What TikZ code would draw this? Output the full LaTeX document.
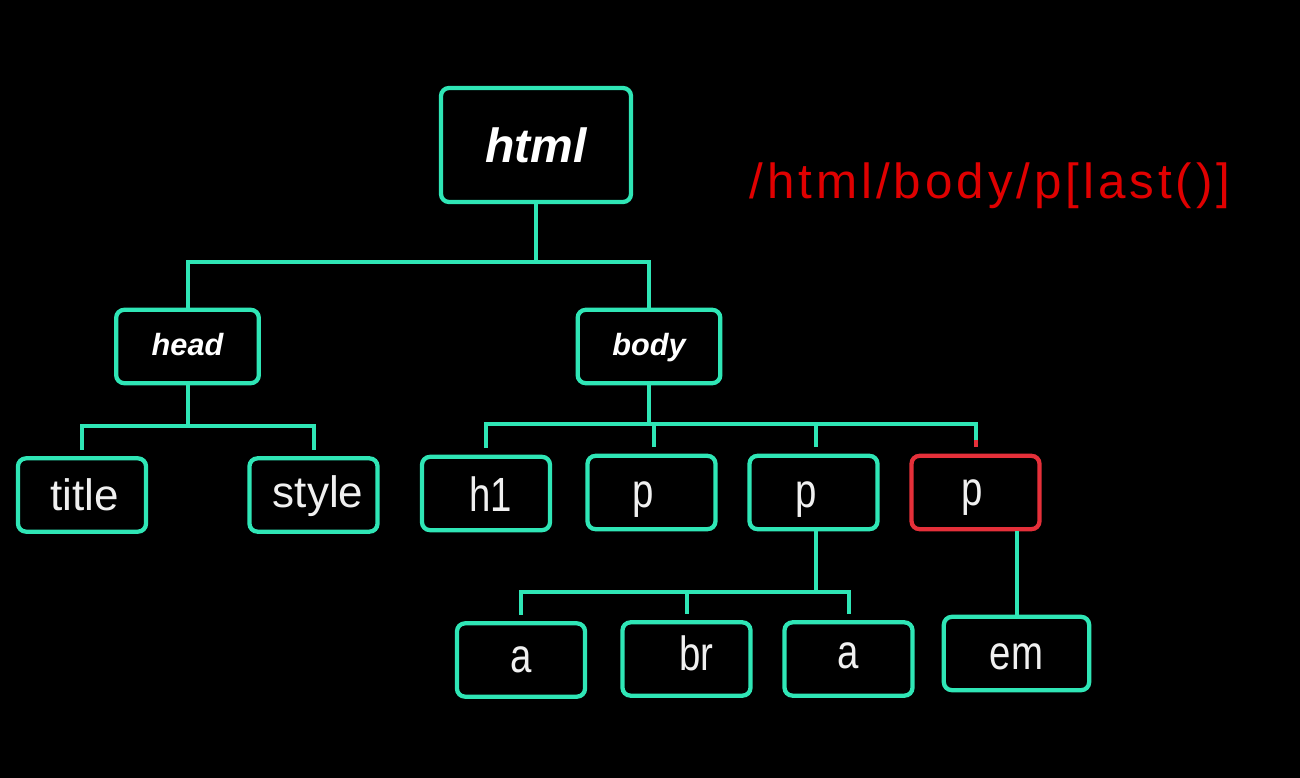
\documentclass[tikz,border=0pt]{standalone}
\usepackage{fontspec}
\setmainfont{Liberation Sans}
\newfontfamily\narrowfont[FakeStretch=0.8]{Liberation Sans}
\newfontfamily\pathfont[LetterSpace=8]{Liberation Sans}
\newcommand\lblshift[2]{\hspace*{#1}#2\hspace*{-#1}}
\definecolor{teal1}{HTML}{2FE6B6}
\definecolor{redbox}{HTML}{E5303A}
\definecolor{redtxt}{HTML}{E00000}
\definecolor{lbl}{HTML}{F0F0F0}
\tikzset{
  box/.style={draw=teal1, line width=3.2pt, rounded corners=6pt, inner sep=0pt,
    minimum width=96pt, minimum height=55pt, text=lbl},
  bl/.style={text depth=0pt, text height=#1*1.5pt},
  bigbox/.style={box, minimum width=142.5pt, minimum height=85.5pt, text=white,
    font=\fontsize{36}{36}\selectfont\bfseries\itshape},
  midbox/.style={box, minimum width=107pt, minimum height=55pt, text=white,
    font=\fontsize{23}{23}\selectfont\bfseries\itshape},
  lowtext/.style={font=\fontsize{33}{33}\selectfont},
  narrowtext/.style={font=\narrowfont\fontsize{36}{36}\selectfont},
  conn/.style={draw=teal1, line width=3pt},
  redconn/.style={draw=redbox, line width=3pt}
}
\begin{document}
\begin{tikzpicture}[x=0.75pt,y=-0.75pt]
\fill[black] (0,0) rectangle (1300,778);
\useasboundingbox (0,0) rectangle (1300,778);

\node[bigbox,bl=17] (html) at (536,145) {html};
\node[midbox,bl=8.5] (head) at (187.5,346.5) {head};
\node[midbox,bl=8.5] (body) at (649,346.5) {body};

\node[box,lowtext,bl=15] (title) at (82,495) {\lblshift{2.25pt}{title}};
\node[box,lowtext,bl=12] (style) at (313.5,495) {\lblshift{3.4pt}{style}};

\node[box,narrowtext,bl=17.5] (h1) at (486,493.5) {\lblshift{3.75pt}{h1}};
\node[box,narrowtext,bl=14.5] (p1) at (651.5,492.5) {\lblshift{-6pt}{p}};
\node[box,narrowtext,bl=14.5] (p2) at (813.5,492.5) {\lblshift{-5.6pt}{p}};
\node[box,narrowtext,bl=12.5,draw=redbox] (p3) at (975.5,492.5) {\lblshift{-2.6pt}{p}};

\node[box,narrowtext,bl=12] (a1) at (521,660) {a};
\node[box,narrowtext,bl=11] (br) at (686.5,659) {\lblshift{7.5pt}{br}};
\node[box,narrowtext,bl=9] (a2) at (848.5,659) {a};
\node[box,narrowtext,bl=15.5,minimum width=109pt] (em) at (1016.5,653.5) {em};

\node[text=redtxt, font=\pathfont\fontsize{37}{37}\selectfont] (xpath) at (990,186) {/html/body/p[last()]};

% junctions
\coordinate (j1) at (537,262);
\coordinate (j2) at (187,426);
\coordinate (j3) at (649,424);
\coordinate (j4) at (815,592);

\draw[conn] (html.south) -- (html.south |- j1);
\draw[conn] (head.north) |- (j1) -| (body.north);

\draw[conn] (head.south) -- (head.south |- j2);
\draw[conn, shorten <=5pt, shorten >=5pt] (title.north) |- (j2) -| (style.north);

\draw[conn] (body.south) -- (body.south |- j3);
\draw[conn, shorten <=5pt, shorten >=5pt] (h1.north) |- (j3) -| (p3.north);
\draw[conn, shorten <=5pt] ([xshift=1.5pt]p1.north) -- ([xshift=1.5pt]p1.north |- j3);
\draw[conn, shorten <=5pt] ([xshift=1.5pt]p2.north) -- ([xshift=1.5pt]p2.north |- j3);
\draw[redconn] ([yshift=5pt]p3.north) -- ([yshift=10.5pt]p3.north);

\draw[conn] ([xshift=1.5pt]p2.south) -- ([xshift=1.5pt]p2.south |- j4);
\draw[conn, shorten <=5pt, shorten >=5pt] (a1.north) |- (j4) -| (a2.north);
\draw[conn, shorten <=5pt] (br.north) -- (br.north |- j4);

\draw[conn] (em.north |- p3.south) -- (em.north);
\end{tikzpicture}
\end{document}
